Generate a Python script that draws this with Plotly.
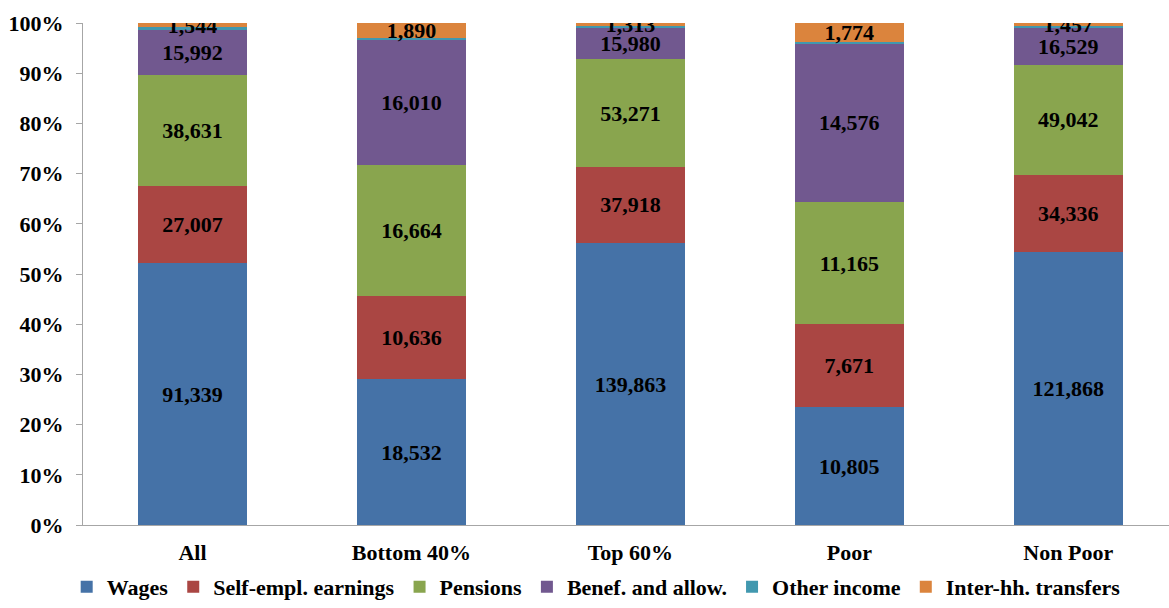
import plotly.graph_objects as go

groups = ["All", "Bottom 40%", "Top 60%", "Poor", "Non Poor"]

wages = [91339, 18532, 139863, 10805, 121868]
self_empl = [27007, 10636, 37918, 7671, 34336]
pensions = [38631, 16664, 53271, 11165, 49042]
benefits = [15992, 16010, 15980, 14576, 16529]
other_income = [600, 180, 800, 120, 650]
inter_hh = [1544, 1890, 1313, 1774, 1457]

series = [
    ("Wages", wages, "#4572A7", True),
    ("Self-empl. earnings", self_empl, "#AA4643", True),
    ("Pensions", pensions, "#89A54E", True),
    ("Benef. and allow.", benefits, "#71588F", True),
    ("Other income", other_income, "#4198AF", False),
    ("Inter-hh. transfers", inter_hh, "#DB843D", True),
]

serif = "Liberation Serif"
bold22 = dict(family=serif, size=22, color="black", weight="bold")

fig = go.Figure()
for name, vals, color, labelled in series:
    fig.add_trace(go.Bar(
        name=name,
        x=groups,
        y=vals,
        marker=dict(color=color, line=dict(width=0)),
        text=[f"{v:,}" for v in vals] if labelled else None,
        textposition="inside" if labelled else "none",
        insidetextanchor="middle",
        constraintext="none",
        textangle=0,
        textfont=bold22,
        hoverinfo="skip",
    ))

fig.update_layout(
    barmode="stack",
    barnorm="percent",
    bargap=0.5,
    width=1169,
    height=608,
    margin=dict(l=83, r=0, t=23, b=83, autoexpand=False),
    plot_bgcolor="white",
    paper_bgcolor="white",
    font=bold22,
    showlegend=True,
    legend=dict(
        orientation="h",
        xref="container", x=0.51, xanchor="center",
        yref="container", y=0.0, yanchor="bottom",
        font=bold22,
        itemwidth=30,
        tracegroupgap=0,
        traceorder="normal",
    ),
    xaxis=dict(
        range=[-0.5, 4.46],
        showline=True, linecolor="#A6A6A6", linewidth=1,
        ticks="", showgrid=False,
        ticklabelstandoff=8,
        tickfont=bold22,
    ),
    yaxis=dict(
        range=[0, 100],
        dtick=10,
        ticksuffix="%",
        showline=True, linecolor="#A6A6A6", linewidth=1,
        ticks="outside", ticklen=6, tickcolor="#A6A6A6",
        ticklabelstandoff=8,
        showgrid=False, zeroline=False,
        tickfont=bold22,
    ),
)

fig.write_html("out.html")
